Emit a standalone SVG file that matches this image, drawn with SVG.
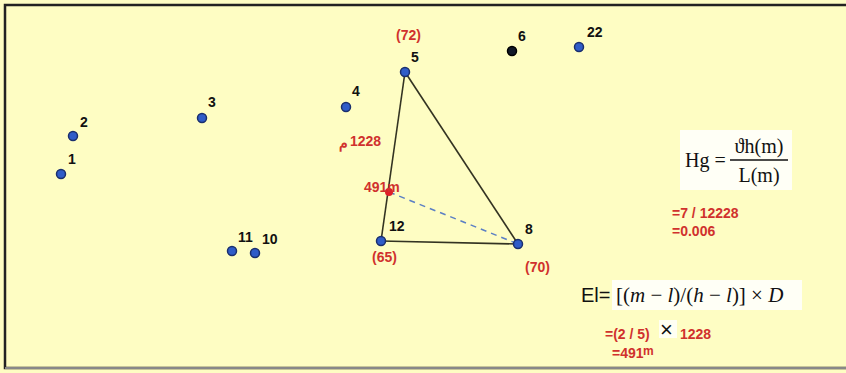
<svg xmlns="http://www.w3.org/2000/svg" width="846" height="373" viewBox="0 0 846 373">
<style>
.pt{fill:#2f5cc8;stroke:#1a2f6e;stroke-width:1.5}
.lb{font-family:"Liberation Sans",Arial,sans-serif;font-weight:bold;font-size:14px;fill:#111}
.rd{font-family:"Liberation Sans",Arial,sans-serif;font-weight:bold;font-size:14px;fill:#d0312d}
.ser{font-family:"Liberation Serif","Times New Roman",serif;font-size:20px;fill:#111}
.edge{stroke:#333322;stroke-width:1.6;fill:none}
</style>
<rect x="0" y="0" width="846" height="373" fill="#fefdc3"/>
<rect x="5" y="5" width="845" height="363" fill="none" stroke="#222" stroke-width="2.5"/>
<line x1="5" y1="368" x2="846" y2="368" stroke="#888" stroke-width="2"/>
<g id="connectors">
<line class="edge" x1="405" y1="72" x2="381" y2="241"/>
<line class="edge" x1="405" y1="72" x2="518" y2="244"/>
<line class="edge" x1="381" y1="241" x2="518" y2="244"/>
<line x1="389" y1="192" x2="518" y2="244" stroke="#5b7fc4" stroke-width="1.5" stroke-dasharray="6,5"/>
</g>
<g id="n1"><circle class="pt" cx="61" cy="174" r="4.5"/><text class="lb" x="68" y="164">1</text></g>
<g id="n2"><circle class="pt" cx="73" cy="136" r="4.5"/><text class="lb" x="80" y="127">2</text></g>
<g id="n3"><circle class="pt" cx="202" cy="118" r="4.5"/><text class="lb" x="208" y="107">3</text></g>
<g id="n4"><circle class="pt" cx="346" cy="107" r="4.5"/><text class="lb" x="352" y="96">4</text></g>
<g id="n5"><circle class="pt" cx="405" cy="72" r="4.5"/><text class="lb" x="411" y="62">5</text><text class="rd" x="396" y="40">(72)</text></g>
<g id="n6"><circle cx="512" cy="51" r="4.5" fill="#101828" stroke="#000" stroke-width="1.5"/><text class="lb" x="518" y="41">6</text></g>
<g id="n22"><circle class="pt" cx="579" cy="47" r="4.5"/><text class="lb" x="587" y="37">22</text></g>
<g id="n11"><circle class="pt" cx="232" cy="251" r="4.5"/><text class="lb" x="238" y="242">11</text></g>
<g id="n10"><circle class="pt" cx="255" cy="253" r="4.5"/><text class="lb" x="262" y="244">10</text></g>
<g id="n12"><circle class="pt" cx="381" cy="241" r="4.5"/><text class="lb" x="389" y="231">12</text><text class="rd" x="372" y="262">(65)</text></g>
<g id="n8"><circle class="pt" cx="518" cy="244" r="4.5"/><text class="lb" x="525" y="234">8</text><text class="rd" x="525" y="272">(70)</text></g>
<g id="pm"><circle cx="389" cy="192" r="4" fill="#e0202a"/><text class="rd" x="364" y="192">491m</text></g>
<text class="rd" x="339" y="148" font-size="11">م</text>
<text class="rd" x="350" y="146">1228</text>
<g id="hg">
<rect x="680" y="130" width="112" height="60" fill="#ffffff" opacity="0.85"/>
<text class="ser" x="685" y="167">Hg =</text>
<text class="ser" x="759" y="153" text-anchor="middle">ϑh(m)</text>
<line x1="730" y1="160" x2="788" y2="160" stroke="#111" stroke-width="1.3"/>
<text class="ser" x="759" y="182" text-anchor="middle">L(m)</text>
</g>
<text class="rd" x="672" y="218">=7 / 12228</text>
<text class="rd" x="672" y="236">=0.006</text>
<g id="el">
<rect x="612" y="280" width="190" height="30" fill="#ffffff" opacity="0.85"/>
<text x="581" y="302" font-family="'Liberation Sans',Arial,sans-serif" font-size="20" fill="#111">El=</text>
<text x="616" y="302" font-family="'Liberation Serif','Times New Roman',serif" font-size="21" fill="#111">[(<tspan font-style="italic">m</tspan> − <tspan font-style="italic">l</tspan>)/(<tspan font-style="italic">h</tspan> − <tspan font-style="italic">l</tspan>)] × <tspan font-style="italic">D</tspan></text>
</g>
<text class="rd" x="605" y="339">=(2 / 5)</text>
<rect x="659" y="320" width="18" height="18" fill="#ffffff" opacity="0.8"/>
<text x="660" y="337" font-family="'Liberation Sans',Arial,sans-serif" font-size="22" fill="#111">×</text>
<text class="rd" x="680" y="339">1228</text>
<text class="rd" x="612" y="358">=491</text>
<text x="643" y="355" font-family="'Liberation Sans',Arial,sans-serif" font-weight="bold" font-size="12" fill="#d0312d">m</text>
</svg>
